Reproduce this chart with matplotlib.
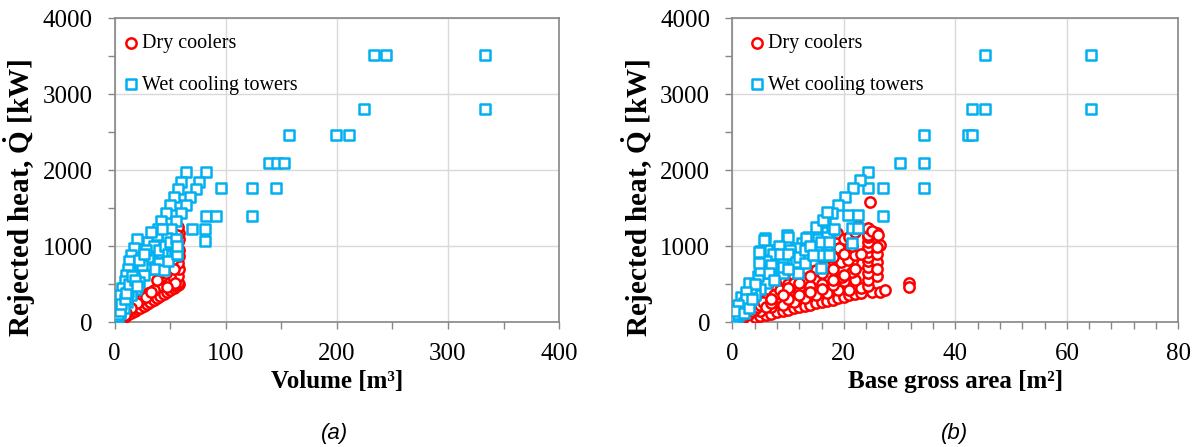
"""
Rejected heat vs. volume / base area for dry coolers and wet cooling towers.
"""
import matplotlib
matplotlib.use('Agg')
import matplotlib.pyplot as plt
from matplotlib.ticker import MultipleLocator

plt.rcParams['font.family'] = 'Liberation Serif'
plt.rcParams['mathtext.fontset'] = 'custom'
plt.rcParams['mathtext.rm'] = 'Liberation Serif'
plt.rcParams['mathtext.bf'] = 'Liberation Serif:bold'

# ---- panel (a): volume [m3] vs rejected heat [kW] ----
dry_vol = [2, 4, 6, 8, 10, 12, 15, 18, 20, 23, 26, 29, 32, 35, 38, 41, 44, 47, 50, 53, 55, 57, 58,
           57, 57, 58, 57, 58, 58, 57, 58, 58, 57, 57,
           50, 45, 40, 35, 48, 43, 38, 52, 30, 25, 20, 15, 10, 28, 33, 46, 54, 55, 52, 50,
           54, 47, 53, 51, 56, 1, 3, 5, 7, 9]
dry_q_vol = [15, 30, 50, 65, 80, 100, 120, 150, 170, 190, 210, 240, 260, 290, 320, 340, 370, 400, 420, 450, 470, 490, 500,
             520, 600, 700, 780, 870, 950, 1050, 1100, 1170, 1250, 1540,
             600, 520, 480, 420, 700, 600, 550, 800, 380, 300, 250, 180, 120, 330, 400, 650, 900, 1000, 950, 850,
             513, 460, 697, 868, 1150, 10, 25, 45, 70, 90]

wet_vol = [233, 244, 333, 224, 333, 157, 199, 211, 139, 146, 152, 96, 124, 145, 82, 91, 124, 70, 81, 81,
           64, 60, 57, 53, 50, 46, 42, 39, 36, 32, 29, 26, 23, 20, 17, 14, 11, 8, 6, 4, 2,
           82, 76, 73, 68, 64, 60, 55, 51, 47, 42, 38, 34, 30, 26, 22, 19, 15, 11, 8, 5,
           20, 17, 15, 13, 12, 10, 9, 7, 5,
           30, 35, 40, 45, 50, 55, 48, 52, 54, 44, 40, 36, 44, 48, 30, 25, 22, 28, 38, 33, 43, 26, 56, 56,
           1, 2, 3, 1.5, 3, 5, 6, 9, 12, 10, 13, 16, 18, 20]
wet_q_vol = [3520, 3520, 3520, 2810, 2810, 2460, 2460, 2460, 2100, 2100, 2100, 1760, 1760, 1760, 1400, 1400, 1400, 1230, 1230, 1070,
             1980, 1846, 1750, 1650, 1540, 1440, 1330, 1220, 1110, 1000, 900, 800, 700, 620, 530, 440, 350, 260, 180, 120, 60,
             1980, 1846, 1750, 1650, 1540, 1440, 1330, 1220, 1110, 1000, 900, 800, 700, 620, 530, 440, 350, 260, 180, 120,
             1090, 980, 880, 800, 700, 620, 540, 450, 350,
             1050, 1000, 950, 1000, 1050, 1100, 900, 880, 880, 780, 780, 700, 684, 800, 850, 750, 820, 950, 1150, 1180, 1230, 900, 900, 1000,
             20, 35, 50, 80, 100, 150, 240, 300, 400, 380, 500, 600, 560, 470]

# ---- panel (b): base gross area [m2] vs rejected heat [kW] ----
dry_area = [1, 2, 3, 4, 5, 6, 7, 8, 9, 10, 11, 12, 13, 14, 15, 16, 17, 18, 19, 20, 21, 22, 23, 25, 26.5, 27.4, 31.6, 31.6,
            5, 7, 9, 11, 13, 15, 17, 19, 21, 23, 24.4,
            6, 8, 10, 12, 14, 16, 18, 20, 22, 24.4, 25.9, 19.6, 21.4,
            8, 9.5, 11, 12, 13.4, 15, 16.5, 18, 19.4, 20.8, 23.2, 24.4, 24.4, 24.4, 25.9, 26,
            13.2, 14.5, 16, 17.5, 19.1, 21, 22, 24.4, 24.4, 24.4, 25.9, 26.5, 25.9,
            17, 18.7, 20, 21, 22, 22.5, 24.4, 24.4, 24.4, 24.4, 25.9, 25, 26.2, 24.6,
            0.5, 1, 1.5, 2, 2.5, 3, 3.5, 4, 4.5, 5, 5.5, 6, 7, 7.5, 8.5, 10, 11,
            10, 12, 14, 16, 18, 20, 22, 23, 21.5, 20, 18, 16, 14, 12, 10, 9, 7]
dry_q_area = [15, 30, 45, 60, 75, 95, 110, 130, 145, 160, 180, 195, 210, 225, 245, 260, 280, 290, 310, 330, 350, 370, 380, 400, 400, 420, 510, 460,
              150, 200, 230, 270, 320, 350, 380, 420, 421, 450, 480,
              300, 330, 380, 443, 480, 500, 487, 540, 560, 560, 600, 597, 662,
              450, 560, 600, 640, 700, 680, 750, 700, 794, 816, 772, 640, 720, 800, 790, 700,
              842, 900, 850, 900, 969, 950, 880, 860, 925, 990, 900, 1020, 990,
              1050, 1167, 1100, 1125, 1180, 1260, 1050, 1123, 1145, 1233, 1170, 1200, 1150, 1580,
              10, 30, 50, 70, 90, 110, 140, 170, 200, 230, 260, 200, 250, 350, 420, 500, 520,
              300, 350, 400, 430, 560, 620, 700, 900, 1000, 900, 850, 650, 600, 520, 450, 350, 300]

wet_area = [64.3, 45.3, 43.0, 45.3, 64.3, 42.2, 43.0, 34.3, 30.1, 34.3, 34.3, 27.1, 27.1, 24.4,
            24.4, 22.9, 21.7, 20.2, 19.0, 17.8, 16.6, 15.1, 13.6, 12.5, 11.5, 10.3, 9, 8, 7, 6, 5, 4, 3, 2, 1.3, 0.8, 0.4,
            20.8, 22.6, 21.4, 22.6, 17.8, 21.4, 16.9, 16.9, 16.9, 15.9, 17.4, 15.9, 17.4, 15.9, 18.3,
            5.8, 9.8, 13.2, 15, 16.3, 16.9, 10, 6.4, 8, 10.3, 4.9, 11.8, 9.1, 4.6, 3.4, 1.6, 1.0, 0.3,
            4.9, 8.4, 7.2, 8.5, 10, 11.5, 6, 7, 9, 12, 13, 14, 5, 6.5, 3, 4, 2.5, 7.5, 10, 13, 14.5,
            4.7, 4.7, 5.6,
            0.5, 1, 1.5, 2, 2.5, 1, 0.7, 2, 3, 3.5]
wet_q_area = [3520, 3520, 2810, 2810, 2810, 2460, 2460, 2460, 2100, 2100, 1760, 1760, 1400, 1760,
              1978, 1869, 1759, 1650, 1540, 1430, 1322, 1223, 1123, 1040, 975, 890, 800, 700, 600, 520, 440, 350, 260, 180, 110, 60, 25,
              1408, 1408, 1233, 1233, 1211, 1036, 1123, 1000, 882, 1055, 1055, 880, 880, 710, 1230,
              1105, 1140, 1105, 1254, 1342, 1450, 1123, 948, 948, 948, 794, 640, 640, 600, 443, 333, 160, 40,
              930, 1000, 890, 890, 890, 790, 800, 750, 720, 850, 950, 1000, 680, 650, 520, 500, 400, 550, 700, 780, 880,
              925, 772, 1079,
              80, 100, 200, 250, 300, 230, 150, 120, 180, 300]

RED = '#FF0000'
BLUE = '#00B0F0'


def style_axes(ax, xmax, xmajor, xminor, xlabel, leg_x):
    ax.set_xlim(0, xmax)
    ax.set_ylim(0, 4000)
    ax.xaxis.set_major_locator(MultipleLocator(xmajor))
    ax.xaxis.set_minor_locator(MultipleLocator(xminor))
    ax.yaxis.set_major_locator(MultipleLocator(1000))
    ax.yaxis.set_minor_locator(MultipleLocator(500))
    ax.grid(which='major', color='#D9D9D9', linewidth=1)
    ax.set_axisbelow(True)
    for s in ax.spines.values():
        s.set_color('#868686')
        s.set_linewidth(1.2)
    ax.tick_params(which='both', direction='out', length=5, width=1, color='#868686',
                   labelsize=18)
    ax.tick_params(axis='x', which='both', pad=10)
    ax.tick_params(axis='y', which='both', pad=11)
    ax.set_xlabel(xlabel, fontsize=18, fontweight='bold', labelpad=4)
    ax.set_ylabel(r'Rejected heat, $\mathbf{\dot{Q}}$ [kW]', fontsize=21, fontweight='bold')
    ax.yaxis.set_label_coords(-0.172, 0.41)
    ax.legend(loc='upper left', bbox_to_anchor=(leg_x, 0.987), frameon=False, fontsize=14.5,
              handletextpad=0.1, handlelength=0.9, labelspacing=1.1,
              borderaxespad=0.2, borderpad=0.4)


fig = plt.figure(figsize=(12, 4.47), dpi=100)
ax1 = fig.add_axes([0.0956, 0.2796, 0.3703, 0.6794])
ax2 = fig.add_axes([0.6103, 0.2796, 0.3717, 0.6794])

ax1.scatter(dry_vol, dry_q_vol, s=55, marker='o', facecolors='white', edgecolors=RED,
            linewidths=1.8, label='Dry coolers', zorder=3)
ax1.scatter(wet_vol, wet_q_vol, s=55, marker='s', facecolors='white', edgecolors=BLUE,
            linewidths=1.8, label='Wet cooling towers', zorder=4)
style_axes(ax1, 400, 100, 50, 'Volume [m³]', -0.011)

ax2.scatter(dry_area, dry_q_area, s=55, marker='o', facecolors='white', edgecolors=RED,
            linewidths=1.8, label='Dry coolers', zorder=3)
ax2.scatter(wet_area, wet_q_area, s=55, marker='s', facecolors='white', edgecolors=BLUE,
            linewidths=1.8, label='Wet cooling towers', zorder=4)
style_axes(ax2, 80, 20, 4, 'Base gross area [m²]', 0.007)

fig.text(335 / 1200, 1 - 433 / 447, '(a)', family='Liberation Sans', style='italic',
         fontsize=16, ha='center', va='center')
fig.text(955 / 1200, 1 - 433 / 447, '(b)', family='Liberation Sans', style='italic',
         fontsize=16, ha='center', va='center')

plt.savefig('out.png', dpi=100)
plt.close()
